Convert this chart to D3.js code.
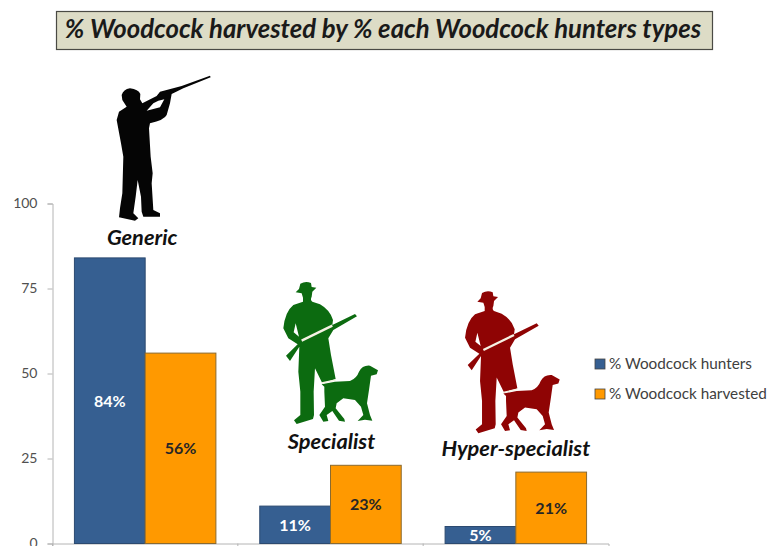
<!DOCTYPE html>
<html>
<head>
<meta charset="utf-8">
<script src="https://d3js.org/d3.v7.min.js"></script>
<style>
  html, body { margin: 0; padding: 0; background: #fff; overflow: hidden; }
  text { font-family: Lato, "Open Sans", sans-serif; }
</style>
</head>
<body>
<svg id="chart" width="769" height="546"></svg>
<script>
const chartTitle = "% Woodcock harvested by % each Woodcock hunters types";
const categories = ["Generic", "Specialist", "Hyper-specialist"];
const seriesNames = ["% Woodcock hunters", "% Woodcock harvested"];
const huntersValues = [84, 11, 5];
const harvestedValues = [56, 23, 21];
const yTicks = [0, 25, 50, 75, 100];
const seriesColors = ["#365f91", "#ff9900"];
const labelColors = ["#ffffff", "#262626"];

// silhouettes, in 3x crop units
const shooterPath = "M50,75 Q55,58 75,55 Q100,58 106,72 L105,88 L112,100 L155,78 L165,65 L230,48 L315,17 L317,22 L235,55 L200,72 L195,100 L185,135 Q178,150 135,160 L132,175 L137,260 L143,310 L140,340 L145,420 L165,430 L165,440 L115,440 L110,425 L108,380 L98,330 L92,380 L85,430 L100,445 L90,452 L42,442 L45,415 L52,370 L55,260 L48,220 L35,150 L42,125 L65,110 L52,90 Z " +
  "M125,122 L165,112 L178,88 L160,92 L145,100 Z";
const hunterPath = "M84,68 L80,55 L62,52 L72,42 L76,26 Q92,17 108,24 L110,36 L124,38 L112,50 L110,65 Q105,75 112,80 L135,88 Q165,105 174,135 L172,150 L240,117 L246,124 L175,165 L160,190 L168,240 L182,312 L142,325 L120,280 L116,350 L117,420 L114,432 L65,447 L57,436 L76,420 L76,350 L70,290 L73,215 L45,258 L33,242 L68,208 L40,190 L25,160 Q30,110 55,90 L84,80 Z " +
  "M62,145 L72,185 L56,172 Z";
const dogPath = "M140,328 L180,320 L225,318 Q245,310 252,290 Q262,270 285,272 L309,286 L305,298 L288,302 L282,345 L276,385 L285,420 L292,437 L270,434 L248,438 L265,420 L258,395 L240,375 L205,370 L185,385 L182,400 L208,432 L210,440 L192,437 L172,408 L155,420 L160,438 L145,440 L133,420 L150,395 L148,350 L148,335 Z";
const rifleGlint = "M80,197 L172,152";
const tailGlint = "M140,324 L182,315";

const margin = { left: 52.5, right: 608.5, top: 203.5, bottom: 543.5 };
const svg = d3.select("#chart");

const x0 = d3.scaleBand()
    .domain(categories)
    .range([margin.left, margin.right]);
const x1 = d3.scaleBand()
    .domain(seriesNames)
    .range([0, x0.bandwidth()])
    .paddingOuter(0.31);
const y = d3.scaleLinear()
    .domain([0, 100])
    .range([margin.bottom, margin.top]);

// title box
svg.append("rect")
    .attr("x", 56.5).attr("y", 11.5)
    .attr("width", 656).attr("height", 38)
    .attr("fill", "#dddcc6")
    .attr("stroke", "#4a4a44")
    .attr("stroke-width", 1.2);
svg.append("text")
    .attr("x", 383).attr("y", 38)
    .attr("text-anchor", "middle")
    .attr("font-size", 25.7)
    .attr("font-weight", 700)
    .attr("font-style", "italic")
    .attr("fill", "#1a1a1a")
    .text(chartTitle);

// axes
const yAxis = svg.append("g")
    .attr("transform", `translate(${margin.left},0)`)
    .call(d3.axisLeft(y).tickValues(yTicks).tickSize(5).tickPadding(10));
const xAxis = svg.append("g")
    .attr("transform", `translate(0,${margin.bottom})`)
    .call(d3.axisBottom(x0).tickValues([]).tickSizeOuter(5));
xAxis.selectAll(".cat-tick")
    .data(categories)
    .enter()
    .append("line")
    .attr("x1", d => x0(d))
    .attr("x2", d => x0(d))
    .attr("y1", 0)
    .attr("y2", 5);
svg.selectAll(".domain, .tick line, .cat-tick, g line").attr("stroke", "#b4b4b4");
yAxis.selectAll("text")
    .attr("font-size", 14)
    .attr("font-family", "Lato")
    .attr("fill", "#505050");

// bars
const barData = categories.flatMap((c, i) => [
    { cat: c, name: seriesNames[0], value: huntersValues[i], s: 0 },
    { cat: c, name: seriesNames[1], value: harvestedValues[i], s: 1 }
]);
svg.selectAll(".bar")
    .data(barData)
    .enter()
    .append("rect")
    .classed("bar", true)
    .attr("x", d => x0(d.cat) + x1(d.name))
    .attr("y", d => y(d.value))
    .attr("width", x1.bandwidth())
    .attr("height", d => y(0) - y(d.value))
    .attr("fill", d => seriesColors[d.s])
    .attr("stroke", d => d.s ? "#8a6a30" : "#2c4a70")
    .attr("stroke-width", 1);
svg.selectAll(".bar-label")
    .data(barData)
    .enter()
    .append("text")
    .classed("bar-label", true)
    .attr("x", d => x0(d.cat) + x1(d.name) + x1.bandwidth() / 2)
    .attr("y", d => (y(d.value) + y(0)) / 2 + 6)
    .attr("text-anchor", "middle")
    .attr("font-size", 16)
    .attr("font-weight", 700)
    .attr("fill", d => labelColors[d.s])
    .text(d => d.value + "%");

// hunter icons
svg.append("path")
    .attr("transform", "translate(105,70) scale(0.3333)")
    .attr("d", shooterPath)
    .attr("fill", "#050505")
    .attr("fill-rule", "evenodd");
const icons = [
    { tx: 275, ty: 275, fill: "#0c6b10" },
    { tx: 456.7, ty: 284.3, fill: "#8f0404" }
];
const iconG = svg.selectAll(".icon")
    .data(icons)
    .enter()
    .append("g")
    .classed("icon", true)
    .attr("transform", d => `translate(${d.tx},${d.ty}) scale(0.3333)`);
iconG.append("path")
    .attr("d", hunterPath)
    .attr("fill-rule", "evenodd")
    .attr("fill", d => d.fill);
iconG.append("path")
    .attr("d", dogPath)
    .attr("fill", d => d.fill);
iconG.selectAll(".glint")
    .data([rifleGlint, tailGlint])
    .enter()
    .append("path")
    .classed("glint", true)
    .attr("d", d => d)
    .attr("fill", "none")
    .attr("stroke", "#f6f2e4")
    .attr("stroke-width", (d, i) => i ? 4 : 7);

// category names sit over each group
const catLabelY = [245, 449, 456];
const catLabelDx = [-3, 1, 0];
svg.selectAll(".cat-label")
    .data(categories)
    .enter()
    .append("text")
    .classed("cat-label", true)
    .attr("x", (d, i) => x0(d) + x0.bandwidth() / 2 + catLabelDx[i])
    .attr("y", (d, i) => catLabelY[i])
    .attr("text-anchor", "middle")
    .attr("font-size", 21.8)
    .attr("font-weight", 700)
    .attr("font-style", "italic")
    .attr("fill", "#111")
    .text(d => d);

// legend
const legend = svg.selectAll(".legend")
    .data(seriesNames)
    .enter()
    .append("g")
    .classed("legend", true)
    .attr("transform", (d, i) => `translate(595,${359 + i * 30})`);
legend.append("rect")
    .attr("width", 10).attr("height", 10)
    .attr("fill", (d, i) => seriesColors[i])
    .attr("stroke", "#444")
    .attr("stroke-width", 0.8);
legend.append("text")
    .attr("x", 14).attr("y", 10)
    .attr("font-size", 15.3)
    .attr("fill", "#404040")
    .text(d => d);
</script>
</body>
</html>
